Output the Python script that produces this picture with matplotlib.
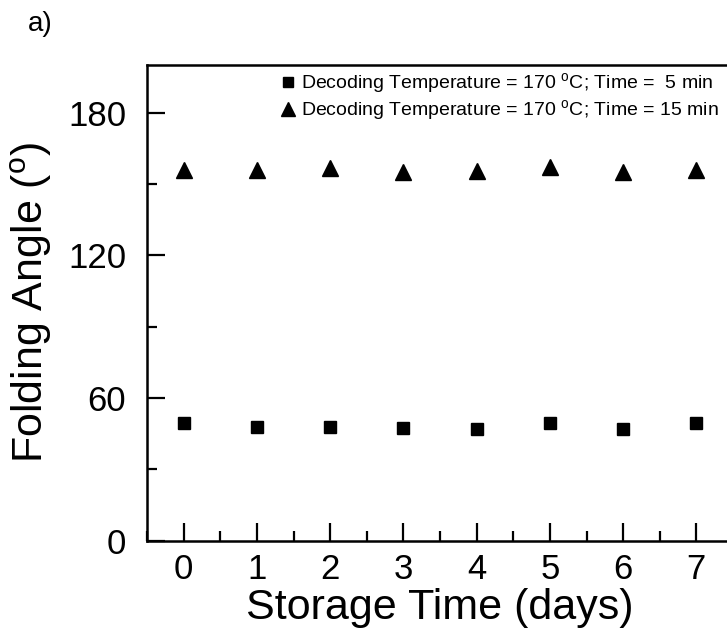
import matplotlib
matplotlib.use("Agg")
import matplotlib.pyplot as plt
from matplotlib.ticker import MultipleLocator

plt.rcParams["font.family"] = ["Liberation Sans", "DejaVu Sans"]
plt.rcParams["mathtext.fontset"] = "custom"
plt.rcParams["mathtext.rm"] = "Liberation Sans"

days = [0, 1, 2, 3, 4, 5, 6, 7]
angle_5min = [49.3, 47.9, 47.9, 47.4, 47.0, 49.3, 47.0, 49.3]
angle_15min = [155.9, 155.9, 156.7, 155.2, 155.6, 157.3, 155.2, 155.9]
labels = [
    r"Decoding Temperature = 170 $^{\mathrm{o}}$C; Time =  5 min",
    r"Decoding Temperature = 170 $^{\mathrm{o}}$C; Time = 15 min",
]

fig = plt.figure(figsize=(7.27, 6.41), dpi=100)
ax = fig.add_axes([147 / 727, 1 - 540.7 / 641, (733 - 147) / 727, (540.7 - 65) / 641])

ax.plot(days, angle_5min, linestyle="none", marker="s", ms=8.5, color="black", label=labels[0])
ax.plot(days, angle_15min, linestyle="none", marker="^", ms=11, color="black", label=labels[1])

ax.set_xlim(-0.5, 7.5)
ax.set_ylim(0, 200)
ax.xaxis.set_major_locator(MultipleLocator(1))
ax.xaxis.set_minor_locator(MultipleLocator(0.5))
ax.yaxis.set_major_locator(MultipleLocator(60))
ax.yaxis.set_minor_locator(MultipleLocator(30))
ax.tick_params(which="both", direction="in", width=1.6, labelsize=25, top=False, right=False)
ax.tick_params(which="major", length=13)
ax.tick_params(axis="y", which="major", pad=15)
ax.tick_params(axis="x", which="major", pad=9)
ax.tick_params(which="minor", length=7)
for side in ("left", "bottom", "top", "right"):
    ax.spines[side].set_linewidth(1.8)

ax.set_xlabel("Storage Time (days)", fontsize=31)
ax.xaxis.set_label_coords(0.5, -0.1)
ax.set_ylabel(r"Folding Angle ($^{\mathrm{o}}$)", fontsize=31)
ax.yaxis.set_label_coords(-0.158, 0.5)

ax.legend(loc="upper right", bbox_to_anchor=(719 / 727, 1 - 71 / 641), bbox_transform=fig.transFigure,
          frameon=False, fontsize=14, handletextpad=0.15, labelspacing=0.12, markerscale=0.9,
          handlelength=1.1, borderaxespad=0, borderpad=0)

fig.text(40 / 727, 1 - 24 / 641, "a)", fontsize=20, ha="center", va="center")

fig.savefig("out.png", dpi=100)
